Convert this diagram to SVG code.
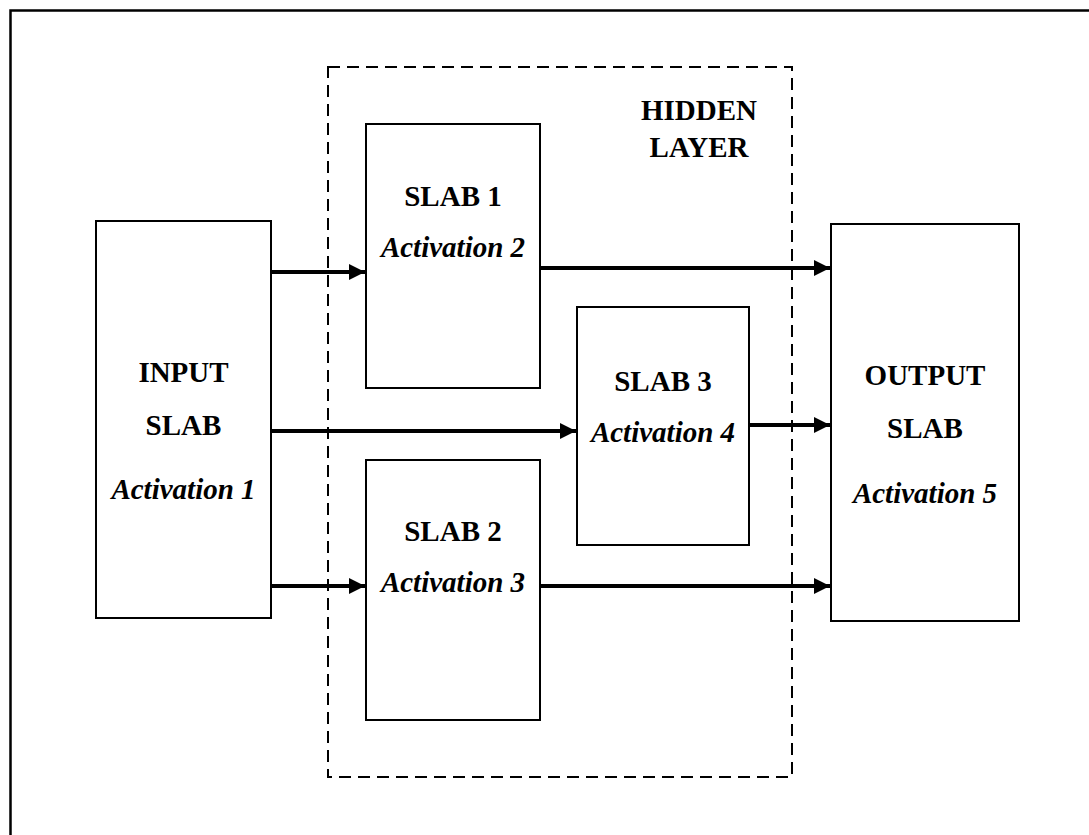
<svg xmlns="http://www.w3.org/2000/svg" width="1089" height="835" viewBox="0 0 1089 835">
  <defs>
    <marker id="arrow" markerWidth="4" markerHeight="4" refX="4" refY="2" orient="auto" markerUnits="strokeWidth">
      <path d="M0,0 L4,2 L0,4 Z" fill="#000"/>
    </marker>
    <style>
      .box { fill: #fff; stroke: #000; stroke-width: 2; }
      .hidden { fill: none; stroke: #000; stroke-width: 2; stroke-dasharray: 12 7; }
      .link { stroke: #000; stroke-width: 4; fill: none; marker-end: url(#arrow); }
      .title { font-family: "Liberation Serif", "Times New Roman", serif; font-weight: bold; font-size: 29px; text-anchor: middle; fill: #000; }
      .act { font-family: "Liberation Serif", "Times New Roman", serif; font-weight: bold; font-style: italic; font-size: 29px; text-anchor: middle; fill: #000; }
    </style>
  </defs>

  <rect width="1089" height="835" fill="#fff"/>
  <!-- page frame -->
  <path d="M10.5,840 V10.5 H1095" fill="none" stroke="#000" stroke-width="2.5"/>

  <!-- hidden layer boundary -->
  <g id="hidden-layer">
    <rect class="hidden" x="328" y="67" width="464" height="710"/>
    <text class="title" x="699" y="120">HIDDEN</text>
    <text class="title" x="699" y="157">LAYER</text>
  </g>

  <g id="input-slab">
    <rect class="box" x="96" y="221" width="175" height="397"/>
    <text class="title" x="183.5" y="382">INPUT</text>
    <text class="title" x="183.5" y="435">SLAB</text>
    <text class="act" x="183.5" y="499">Activation 1</text>
  </g>

  <g id="slab-1">
    <rect class="box" x="366" y="124" width="174" height="264"/>
    <text class="title" x="453" y="206">SLAB 1</text>
    <text class="act" x="453" y="257">Activation 2</text>
  </g>

  <g id="slab-2">
    <rect class="box" x="366" y="460" width="174" height="260"/>
    <text class="title" x="453" y="541">SLAB 2</text>
    <text class="act" x="453" y="592">Activation 3</text>
  </g>

  <g id="slab-3">
    <rect class="box" x="577" y="307" width="172" height="238"/>
    <text class="title" x="663" y="391">SLAB 3</text>
    <text class="act" x="663" y="442">Activation 4</text>
  </g>

  <g id="output-slab">
    <rect class="box" x="831" y="224" width="188" height="397"/>
    <text class="title" x="925" y="385">OUTPUT</text>
    <text class="title" x="925" y="438">SLAB</text>
    <text class="act" x="925" y="503">Activation 5</text>
  </g>

  <g id="connectors">
    <line class="link" x1="271" y1="272" x2="365" y2="272"/>
    <line class="link" x1="271" y1="431" x2="576" y2="431"/>
    <line class="link" x1="271" y1="586" x2="365" y2="586"/>
    <line class="link" x1="540" y1="268" x2="830" y2="268"/>
    <line class="link" x1="749" y1="425" x2="830" y2="425"/>
    <line class="link" x1="540" y1="586" x2="830" y2="586"/>
  </g>
</svg>
